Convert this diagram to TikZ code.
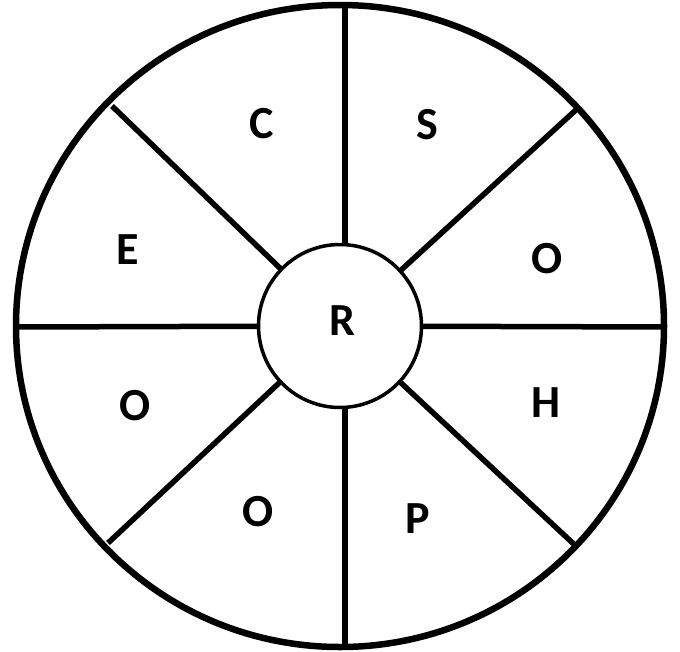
\documentclass[tikz,border=0pt]{standalone}
\usepackage{fontspec}
\setmainfont{Carlito}
\begin{document}
\begin{tikzpicture}[x=1pt,y=-1pt,
  lbl/.style={font=\fontsize{46}{46}\selectfont\bfseries},
  spoke/.style={line width=5.5pt},
  outerc/.style={line width=6.5pt},
  innerc/.style={draw,circle,line width=3.5pt,minimum size=163pt,inner sep=0pt,fill=white}]
\useasboundingbox (0,0) rectangle (680,651);
\coordinate (ctr) at (340,326);
\draw[outerc] (ctr) ellipse [x radius=324pt, y radius=321pt];
% spokes
\coordinate (i1) at (345,326);
\coordinate (i5) at (345,326);
\coordinate (o1) at (345,4);
\coordinate (o2) at (578,108);
\coordinate (o3) at (665,327);
\coordinate (o4) at (578,548);
\coordinate (o5) at (345,648);
\coordinate (o6) at (108,543);
\coordinate (o7) at (16,327);
\coordinate (o8) at (112,106);
\draw[spoke] (i1) -- (o1);
\draw[spoke] (i5) -- (o5);
\foreach \i in {2,3,4,6,7,8} {\draw[spoke] (ctr) -- (o\i);}
\node[innerc] (R) at (ctr) {};
\node[lbl] (r) at (342,321) {R};
\node[lbl] (c) at (262,124) {C};
\node[lbl] (s) at (427,125) {S};
\node[lbl] (o) at (547,259) {O};
\node[lbl] (h) at (546,403) {H};
\node[lbl] (p) at (418,519) {P};
\node[lbl] (oo) at (258,512) {O};
\node[lbl] (ooo) at (135,406) {O};
\node[lbl] (e) at (128,250) {E};
\end{tikzpicture}
\end{document}
